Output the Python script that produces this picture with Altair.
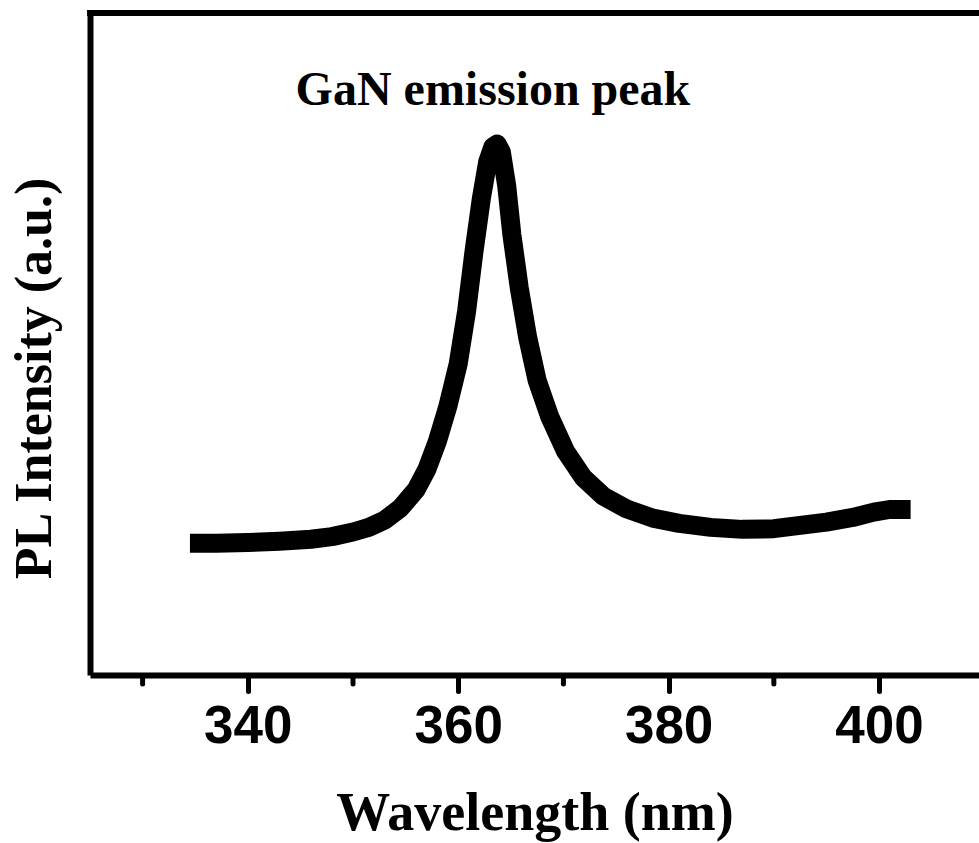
import altair as alt
import pandas as pd

# Spectrum (wavelength in nm, PL intensity in arbitrary units)
wavelength = [334.5, 337, 340, 343, 346, 348, 350, 351.5, 353, 354.5, 356, 357, 358, 359,
              360, 360.8, 361.5, 362.2, 362.8, 363.3, 363.7, 364.1, 364.6, 365.1, 365.8,
              366.6, 367.5, 368.7, 370.2, 371.9, 373.8, 376, 378.5, 381, 384, 387, 390,
              392.5, 395, 397.5, 399.5, 401, 403]
intensity = [199, 199, 200, 202, 205, 209, 216, 223, 234, 252, 280, 310, 352, 405,
             470, 550, 640, 720, 775, 798, 802, 790, 740, 665, 585,
             510, 445, 390, 338, 298, 270, 251, 237, 229, 223, 220, 221,
             226, 231, 238, 246, 250, 250]

major_ticks = [340, 360, 380, 400]
minor_ticks = [330, 350, 370, 390]

annotation_text = ["GaN emission peak"]
annotation_x = [363.3]
annotation_y = [861]

W, H = 889, 662
X_DOMAIN = [325, 409.5]
Y_DOMAIN = [0, 1000]

df = pd.DataFrame({"wavelength": wavelength, "intensity": intensity})
minor_df = pd.DataFrame({"wavelength": minor_ticks})
ann_df = pd.DataFrame({"x": annotation_x, "y": annotation_y, "text": annotation_text})

x_scale = alt.Scale(domain=X_DOMAIN, nice=False, zero=False)
y_scale = alt.Scale(domain=Y_DOMAIN, nice=False, zero=False)

line = alt.Chart(df).mark_line(
    color="black", strokeWidth=19, strokeCap="butt", strokeJoin="round"
).encode(
    x=alt.X("wavelength:Q", scale=x_scale,
            axis=alt.Axis(
                title="Wavelength (nm)", values=major_ticks, format="d",
                grid=False, domain=True, domainColor="black", domainWidth=6,
                ticks=True, tickColor="black", tickWidth=5, tickSize=16, tickCap="round",
                labelFont="Liberation Sans", labelFontWeight="bold", labelFontSize=53,
                labelColor="black", labelPadding=9, labelFlush=False,
                titleFont="Liberation Serif", titleFontWeight="bold", titleFontSize=54,
                titleColor="black", titleY=154, titleBaseline="alphabetic",
            )),
    y=alt.Y("intensity:Q", scale=y_scale,
            axis=alt.Axis(
                title="PL Intensity (a.u.)", grid=False, labels=False, ticks=False,
                domain=True, domainColor="black", domainWidth=6,
                titleFont="Liberation Serif", titleFontWeight="bold", titleFontSize=52,
                titleColor="black", titleX=-56, titleY=365, titleBaseline="middle",
                titleAngle=-90,
            )),
)

minor = alt.Chart(minor_df).mark_rule(
    color="black", strokeWidth=5, strokeCap="round"
).encode(
    x=alt.X("wavelength:Q", scale=x_scale),
    y=alt.value(H + 3),
    y2=alt.value(H + 9),
)

top_border = alt.Chart(minor_df).mark_rule(color="black", strokeWidth=6).encode(
    x=alt.value(-3), x2=alt.value(W), y=alt.value(0)
)

ann = alt.Chart(ann_df).mark_text(
    font="Liberation Serif", fontWeight="bold", fontSize=48, color="black",
    align="center", baseline="alphabetic"
).encode(
    x=alt.X("x:Q", scale=x_scale),
    y=alt.Y("y:Q", scale=y_scale),
    text="text:N",
)

chart = alt.layer(line, minor, top_border, ann).properties(
    width=W, height=H,
    autosize=alt.AutoSizeParams(type="none"),
    padding={"left": 90, "top": 13, "right": 0, "bottom": 168},
    background="white",
).configure_view(stroke=None)

chart.save("out.html", embed_options={"renderer": "svg", "actions": False})
